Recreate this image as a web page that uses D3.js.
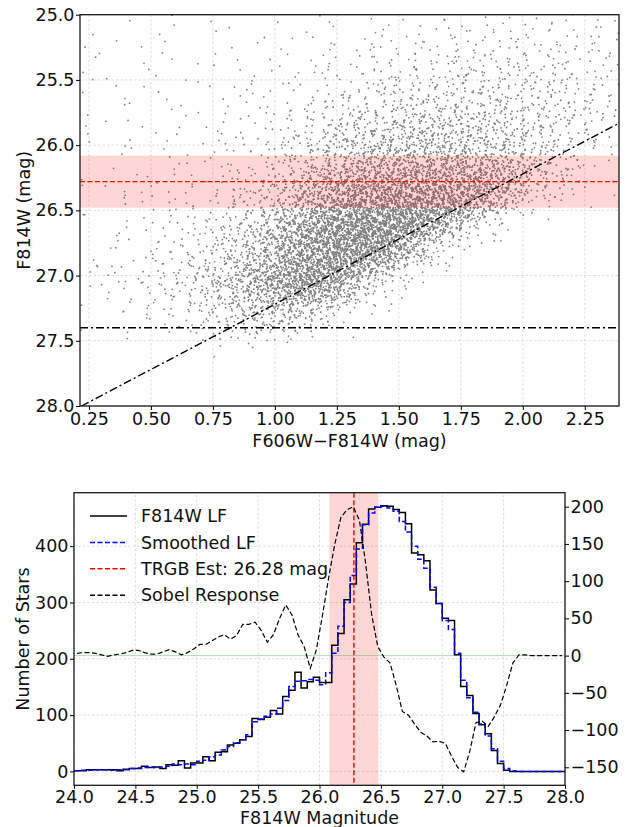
<!DOCTYPE html>
<html>
<head>
<meta charset="utf-8">
<script src="https://cdn.jsdelivr.net/npm/d3@7"></script>
<style>
body { margin: 0; background: #fff; }
text { font-family: "DejaVu Sans", sans-serif; fill: #111; }
</style>
</head>
<body>
<div id="chart"></div>
<script>
// ---- CMD (top panel): star counts per 0.1 colour x 0.1 mag cell
var cmdColors = [0.2, 0.3, 0.4, 0.5, 0.6, 0.7, 0.8, 0.9, 1.0, 1.1, 1.2, 1.3, 1.4, 1.5, 1.6, 1.7, 1.8, 1.9, 2.0, 2.1, 2.2, 2.3];
var cmdMags = [25.0, 25.1, 25.2, 25.3, 25.4, 25.5, 25.6, 25.7, 25.8, 25.9, 26.0, 26.1, 26.2, 26.3, 26.4,
    26.5, 26.6, 26.7, 26.8, 26.9, 27.0, 27.1, 27.2, 27.3, 27.4, 27.5];
var cmdCounts = [
    [1, 0, 1, 1, 0, 1, 1, 0, 1, 1, 1, 1, 2, 2, 2, 2, 2, 3, 3, 3, 2, 2],
    [1, 1, 0, 1, 1, 1, 0, 1, 1, 1, 2, 2, 2, 2, 3, 3, 3, 4, 4, 3, 3, 3],
    [1, 1, 1, 1, 0, 1, 1, 1, 1, 2, 2, 3, 3, 4, 4, 5, 5, 5, 5, 5, 4, 3],
    [1, 0, 1, 1, 1, 1, 1, 1, 2, 2, 3, 3, 4, 5, 6, 6, 7, 7, 6, 6, 5, 3],
    [1, 1, 1, 1, 1, 1, 1, 2, 2, 3, 3, 4, 6, 7, 8, 9, 9, 9, 8, 7, 5, 3],
    [1, 1, 1, 1, 1, 1, 2, 2, 2, 3, 4, 6, 8, 9, 10, 11, 11, 10, 9, 8, 6, 4],
    [1, 1, 1, 1, 1, 1, 2, 2, 3, 4, 6, 8, 10, 12, 13, 13, 13, 12, 11, 9, 7, 5],
    [1, 1, 1, 1, 1, 2, 2, 3, 4, 6, 9, 12, 15, 17, 18, 18, 17, 15, 12, 10, 8, 5],
    [1, 1, 1, 1, 1, 2, 2, 3, 5, 8, 13, 18, 22, 24, 24, 23, 21, 18, 14, 11, 8, 5],
    [1, 1, 1, 1, 1, 2, 3, 4, 7, 12, 18, 24, 28, 30, 30, 28, 25, 21, 16, 10, 5, 2],
    [1, 1, 1, 1, 2, 2, 3, 5, 9, 16, 24, 31, 35, 36, 35, 33, 29, 24, 17, 9, 3, 1],
    [1, 1, 1, 1, 2, 2, 3, 5, 10, 20, 32, 42, 50, 55, 57, 55, 50, 40, 25, 12, 4, 1],
    [1, 1, 1, 2, 2, 3, 5, 8, 16, 32, 50, 62, 70, 75, 76, 72, 65, 50, 20, 8, 3, 1],
    [1, 1, 2, 2, 3, 4, 6, 12, 25, 48, 72, 88, 98, 102, 100, 93, 80, 40, 15, 5, 2, 1],
    [1, 1, 2, 2, 3, 5, 8, 16, 32, 60, 90, 108, 118, 120, 118, 105, 60, 22, 6, 2, 1, 0],
    [1, 1, 2, 3, 4, 6, 10, 20, 42, 78, 112, 132, 140, 138, 110, 60, 18, 4, 1, 0, 0, 0],
    [1, 1, 2, 3, 5, 8, 15, 30, 60, 100, 135, 150, 150, 130, 70, 20, 5, 1, 0, 0, 0, 0],
    [1, 2, 2, 3, 6, 10, 18, 35, 70, 110, 140, 150, 135, 60, 20, 5, 1, 0, 0, 0, 0, 0],
    [1, 2, 3, 4, 7, 12, 22, 42, 75, 110, 135, 130, 95, 40, 10, 2, 0, 0, 0, 0, 0, 0],
    [2, 2, 3, 5, 9, 16, 28, 50, 85, 115, 120, 80, 30, 8, 2, 0, 0, 0, 0, 0, 0, 0],
    [2, 3, 4, 7, 12, 22, 40, 70, 105, 125, 80, 35, 8, 2, 0, 0, 0, 0, 0, 0, 0, 0],
    [1, 2, 3, 5, 9, 16, 28, 45, 65, 75, 50, 18, 4, 1, 0, 0, 0, 0, 0, 0, 0, 0],
    [1, 1, 2, 4, 7, 13, 22, 34, 40, 28, 10, 3, 1, 0, 0, 0, 0, 0, 0, 0, 0, 0],
    [1, 1, 1, 2, 5, 9, 15, 24, 22, 12, 4, 1, 0, 0, 0, 0, 0, 0, 0, 0, 0, 0],
    [0, 1, 1, 1, 2, 4, 7, 9, 6, 3, 1, 0, 0, 0, 0, 0, 0, 0, 0, 0, 0, 0],
    [0, 0, 0, 0, 0, 1, 0, 1, 0, 0, 0, 0, 0, 0, 0, 0, 0, 0, 0, 0, 0, 0]
];
var trgb = 26.28;
var trgbBand = [26.08, 26.48];
var faintLimit = 27.4;
var colourCut = [[0.22, 28.0], [2.38, 25.84]];
var cmdXTicks = [0.25, 0.5, 0.75, 1.0, 1.25, 1.5, 1.75, 2.0, 2.25];
var cmdYTicks = [25.0, 25.5, 26.0, 26.5, 27.0, 27.5, 28.0];

// ---- Luminosity function (bottom panel), 0.05 mag bins
var lfEdges = [24.00, 24.05, 24.10, 24.15, 24.20, 24.25, 24.30, 24.35, 24.40, 24.45,
    24.50, 24.55, 24.60, 24.65, 24.70, 24.75, 24.80, 24.85, 24.90, 24.95,
    25.00, 25.05, 25.10, 25.15, 25.20, 25.25, 25.30, 25.35, 25.40, 25.45,
    25.50, 25.55, 25.60, 25.65, 25.70, 25.75, 25.80, 25.85, 25.90, 25.95,
    26.00, 26.05, 26.10, 26.15, 26.20, 26.25, 26.30, 26.35, 26.40, 26.45,
    26.50, 26.55, 26.60, 26.65, 26.70, 26.75, 26.80, 26.85, 26.90, 26.95,
    27.00, 27.05, 27.10, 27.15, 27.20, 27.25, 27.30, 27.35, 27.40, 27.45,
    27.50, 27.55, 27.60, 27.65, 27.70, 27.75, 27.80, 27.85, 27.90, 27.95];
var lfCounts = [1, 1, 3, 3, 3, 3, 3, 1, 4, 5,
    5, 9, 7, 8, 5, 12, 11, 19, 6, 15,
    15, 26, 19, 34, 35, 47, 50, 56, 62, 94,
    92, 96, 108, 102, 133, 144, 176, 148, 159, 167,
    158, 158, 224, 245, 305, 333, 406, 439, 466, 469,
    472, 471, 465, 460, 440, 388, 385, 374, 322, 298,
    272, 268, 207, 151, 135, 103, 83, 67, 37, 14,
    2, 0, 0, 0, 0, 0, 0, 0, 0, 0];
var lfSmooth = [1, 2, 2, 3, 3, 3, 2, 3, 3, 5,
    6, 7, 8, 7, 8, 9, 13, 12, 13, 12,
    18, 20, 26, 29, 38, 44, 51, 56, 65, 88,
    93, 98, 102, 112, 126, 151, 160, 161, 163, 162,
    154, 175, 210, 258, 300, 348, 395, 438, 459, 469,
    471, 468, 462, 444, 425, 400, 377, 361, 327, 298,
    268, 252, 210, 162, 131, 105, 84, 63, 40, 18,
    5, 1, 0, 0, 0, 0, 0, 0, 0, 0];
var sobel = [3, 4, 4, 3, 1, -1, 1, 2, 4, 7,
    7, 4, 2, 2, 5, 8, 5, 1, 4, 9,
    15, 15, 20, 25, 28, 22, 27, 42, 42, 45,
    34, 18, 28, 50, 68, 55, 28, 12, -17, 8,
    55, 105, 150, 186, 196, 200, 182, 125, 55, 12,
    -2, -10, -40, -75, -80, -92, -103, -108, -116, -115,
    -118, -135, -150, -156, -128, -90, -88, -95, -82, -66,
    -40, -10, 1, 1, 0, 0, 0, 0, 0, 0];
var lfXTicks = [24.0, 24.5, 25.0, 25.5, 26.0, 26.5, 27.0, 27.5, 28.0];
var lfYTicks = [0, 100, 200, 300, 400];
var sobelTicks = [-150, -100, -50, 0, 50, 100, 150, 200];
var legendItems = [
    { label: 'F814W LF', color: '#000', dash: null },
    { label: 'Smoothed LF', color: '#0000ff', dash: '5,2.5' },
    { label: 'TRGB Est: 26.28 mag', color: '#ff0000', dash: '5,2.5' },
    { label: 'Sobel Response', color: '#000', dash: '5,2.5' }
];

var W = 629, H = 827, FS = 17.5;
var svg = d3.select('#chart').append('svg')
    .attr('width', W).attr('height', H)
    .attr('xmlns', 'http://www.w3.org/2000/svg');

function gridLines(g, xs, ys, xTicks, yTicks) {
    g.selectAll(null).data(xTicks).enter().append('line')
        .attr('x1', (d) => xs(d)).attr('x2', (d) => xs(d))
        .attr('y1', ys.range()[0]).attr('y2', ys.range()[1])
        .attr('stroke', '#d4d4d4').attr('stroke-width', 0.8).attr('stroke-dasharray', '2.5,2');
    g.selectAll(null).data(yTicks).enter().append('line')
        .attr('y1', (d) => ys(d)).attr('y2', (d) => ys(d))
        .attr('x1', xs.range()[0]).attr('x2', xs.range()[1])
        .attr('stroke', '#d4d4d4').attr('stroke-width', 0.8).attr('stroke-dasharray', '2.5,2');
}

function styleAxis(g) {
    g.selectAll('.domain').remove();
    g.selectAll('.tick line').attr('stroke', '#000').attr('stroke-width', 1);
    g.selectAll('.tick text').style('font-size', FS + 'px').attr('fill', '#111');
}

function frame(g, x0, y0, x1, y1) {
    g.append('rect').attr('x', x0).attr('y', y0)
        .attr('width', x1 - x0).attr('height', y1 - y0)
        .attr('fill', 'none').attr('stroke', '#1a1a1a').attr('stroke-width', 1.3);
}

// low-discrepancy sequence, used to lay each cell's stars out evenly
function halton(i, b) {
    var f = 1, r = 0;
    while (i > 0) { f /= b; r += f * (i % b); i = Math.floor(i / b); }
    return r;
}

// ================= top panel =================
var tL = 80, tR = 619, tT = 14.7, tB = 406;
var cx = d3.scaleLinear().domain([0.214, 2.388]).range([tL, tR]);
var cy = d3.scaleLinear().domain([25.0, 28.0]).range([tT, tB]);

svg.append('clipPath').attr('id', 'clipTop').append('rect')
    .attr('x', tL).attr('y', tT).attr('width', tR - tL).attr('height', tB - tT);

var cmdG = svg.append('g');
gridLines(cmdG, cx, cy, cmdXTicks, cmdYTicks);

var stars = [];
var j = 1;
cmdCounts.forEach(function(row, r) {
    row.forEach(function(n, c) {
        for (var k = 0; k < n; k++, j++) {
            // tent-shaped spread one cell wide each side: neighbouring cells blend smoothly
            var u = (halton(j, 2) + halton(j, 5) - 1) * 0.1;
            var v = (halton(j, 3) + halton(j, 7) - 1) * 0.1;
            stars.push([cmdColors[c] + 0.05 + u, cmdMags[r] + 0.05 + v]);
        }
    });
});

var cmdPlot = cmdG.append('g').attr('clip-path', 'url(#clipTop)');
cmdPlot.selectAll('circle').data(stars).enter().append('circle')
    .attr('cx', (d) => cx(d[0])).attr('cy', (d) => cy(d[1]))
    .attr('r', 0.9).attr('fill', '#808080');

cmdPlot.append('rect')
    .attr('x', tL).attr('width', tR - tL)
    .attr('y', cy(trgbBand[0])).attr('height', cy(trgbBand[1]) - cy(trgbBand[0]))
    .attr('fill', 'rgba(255,0,0,0.16)');
cmdPlot.append('line')
    .attr('x1', tL).attr('x2', tR).attr('y1', cy(trgb)).attr('y2', cy(trgb))
    .attr('stroke', '#ff0000').attr('stroke-width', 1.4).attr('stroke-dasharray', '5,2.5');
cmdPlot.append('line')
    .attr('x1', tL).attr('x2', tR).attr('y1', cy(faintLimit)).attr('y2', cy(faintLimit))
    .attr('stroke', '#000').attr('stroke-width', 1.4).attr('stroke-dasharray', '8,3,2,3');
cmdPlot.append('path')
    .datum(colourCut)
    .attr('d', d3.line().x((d) => cx(d[0])).y((d) => cy(d[1])))
    .attr('fill', 'none').attr('stroke', '#000').attr('stroke-width', 1.4)
    .attr('stroke-dasharray', '8,3,2,3');

frame(cmdG, tL, tT, tR, tB);
var txa = cmdG.append('g').attr('transform', 'translate(0,' + tB + ')')
    .call(d3.axisBottom(cx).tickValues(cmdXTicks).tickFormat(d3.format('.2f')).tickSizeOuter(0).tickSize(4).tickPadding(3));
styleAxis(txa);
var tya = cmdG.append('g').attr('transform', 'translate(' + tL + ',0)')
    .call(d3.axisLeft(cy).tickValues(cmdYTicks).tickFormat(d3.format('.1f')).tickSizeOuter(0).tickSize(4).tickPadding(1.5));
styleAxis(tya);

cmdG.append('text').attr('x', (tL + tR) / 2).attr('y', 447)
    .attr('text-anchor', 'middle').style('font-size', FS + 'px').text('F606W\u2212F814W (mag)');
cmdG.append('text').attr('transform', 'translate(30,' + ((tT + tB) / 2) + ') rotate(-90)')
    .attr('text-anchor', 'middle').style('font-size', FS + 'px').text('F814W (mag)');

// ================= bottom panel =================
var bL = 74, bR = 565, bT = 492.7, bB = 785.3;
var mx = d3.scaleLinear().domain([24.0, 28.0]).range([bL, bR]);
var ny = d3.scaleLinear().domain([-24.7, 495]).range([bB, bT]);
var sy = d3.scaleLinear().domain([-174.2, 218.8]).range([bB, bT]);

svg.append('clipPath').attr('id', 'clipBot').append('rect')
    .attr('x', bL).attr('y', bT).attr('width', bR - bL).attr('height', bB - bT);

var lfG = svg.append('g');
gridLines(lfG, mx, ny, lfXTicks, lfYTicks);

var lfPlot = lfG.append('g').attr('clip-path', 'url(#clipBot)');
lfPlot.append('rect')
    .attr('x', mx(trgbBand[0])).attr('width', mx(trgbBand[1]) - mx(trgbBand[0]))
    .attr('y', bT).attr('height', bB - bT)
    .attr('fill', 'rgba(255,0,0,0.16)');
lfPlot.append('line')
    .attr('x1', bL).attr('x2', bR).attr('y1', sy(0)).attr('y2', sy(0))
    .attr('stroke', 'rgba(0,128,0,0.3)').attr('stroke-width', 1);

var stepLine = d3.line().curve(d3.curveStepAfter)
    .x((d) => mx(d[0])).y((d) => ny(d[1]));
function stepPoints(vals) {
    var p = lfEdges.map((e, i) => [e, vals[i]]);
    p.push([28.0, vals[vals.length - 1]]);
    return p;
}
lfPlot.append('path').datum(stepPoints(lfCounts))
    .attr('d', stepLine)
    .attr('fill', 'none').attr('stroke', '#000').attr('stroke-width', 1.5);
lfPlot.append('path').datum(stepPoints(lfSmooth))
    .attr('d', stepLine)
    .attr('fill', 'none').attr('stroke', '#0000ff').attr('stroke-width', 1.5)
    .attr('stroke-dasharray', '5,2.5');
lfPlot.append('line')
    .attr('x1', mx(trgb)).attr('x2', mx(trgb)).attr('y1', bT).attr('y2', bB)
    .attr('stroke', '#ff0000').attr('stroke-width', 1.4).attr('stroke-dasharray', '5,2.5');
lfPlot.append('path')
    .datum(sobel.map((s, i) => [lfEdges[i] + 0.025, s]))
    .attr('d', d3.line().x((d) => mx(d[0])).y((d) => sy(d[1])))
    .attr('fill', 'none').attr('stroke', '#000').attr('stroke-width', 1.2)
    .attr('stroke-dasharray', '5,2.5');

frame(lfG, bL, bT, bR, bB);
var bxa = lfG.append('g').attr('transform', 'translate(0,' + bB + ')')
    .call(d3.axisBottom(mx).tickValues(lfXTicks).tickFormat(d3.format('.1f')).tickSizeOuter(0).tickSize(3.5).tickPadding(2));
styleAxis(bxa);
var bya = lfG.append('g').attr('transform', 'translate(' + bL + ',0)')
    .call(d3.axisLeft(ny).tickValues(lfYTicks).tickFormat(d3.format('d')).tickSizeOuter(0).tickSize(4).tickPadding(1.5));
styleAxis(bya);
var bra = lfG.append('g').attr('transform', 'translate(' + bR + ',0)')
    .call(d3.axisRight(sy).tickValues(sobelTicks).tickFormat(d3.format('d')).tickSizeOuter(0).tickSize(4).tickPadding(1.5));
styleAxis(bra);

lfG.append('text').attr('x', (bL + bR) / 2).attr('y', 824)
    .attr('text-anchor', 'middle').style('font-size', FS + 'px').text('F814W Magnitude');
lfG.append('text').attr('transform', 'translate(29,' + ((bT + bB) / 2) + ') rotate(-90)')
    .attr('text-anchor', 'middle').style('font-size', FS + 'px').text('Number of Stars');

var leg = lfG.append('g').selectAll('g').data(legendItems).enter().append('g')
    .attr('transform', (d, i) => 'translate(0,' + (516 + i * 26.4) + ')');
leg.append('line').attr('x1', 90).attr('x2', 127)
    .attr('stroke', (d) => d.color).attr('stroke-width', 1.5)
    .attr('stroke-dasharray', (d) => d.dash);
leg.append('text').attr('x', 141).attr('dy', '0.35em')
    .style('font-size', FS + 'px').text((d) => d.label);
</script>
</body>
</html>
